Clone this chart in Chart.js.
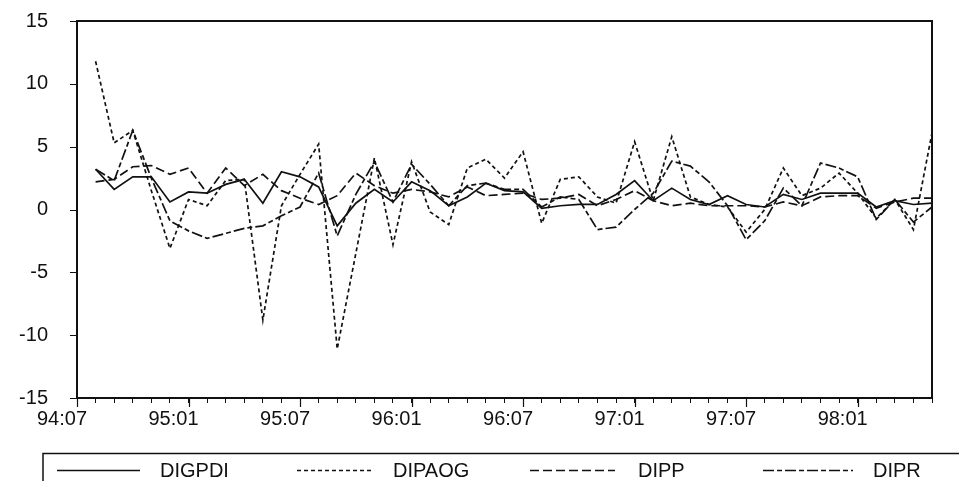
<!DOCTYPE html>
<html>
<head>
<meta charset="utf-8">
<script src="https://cdn.jsdelivr.net/npm/chart.js@4.4.1/dist/chart.umd.min.js"></script>
<style>
  html, body { margin: 0; padding: 0; background: #fff; }
  #wrap { width: 959px; height: 481px; }
</style>
</head>
<body>
<div id="wrap"><canvas id="chart" width="959" height="481"></canvas></div>
<script>
// months on the axis (94:07 has no observation)
const months = [
  "94:07","94:08","94:09","94:10","94:11","94:12",
  "95:01","95:02","95:03","95:04","95:05","95:06","95:07","95:08","95:09","95:10","95:11","95:12",
  "96:01","96:02","96:03","96:04","96:05","96:06","96:07","96:08","96:09","96:10","96:11","96:12",
  "97:01","97:02","97:03","97:04","97:05","97:06","97:07","97:08","97:09","97:10","97:11","97:12",
  "98:01","98:02","98:03","98:04","98:05"
];
const tickLabels = ["94:07","95:01","95:07","96:01","96:07","97:01","97:07","98:01"];

// series, 94:08 .. 98:05
const digpdi = [3.2,1.6,2.6,2.6,0.6, 1.4,1.3,2.0,2.4,0.5, 3.0,2.6,1.8,-1.3,0.5, 1.6,0.6,2.2,1.5,0.3,
  1.0,2.1,1.5,1.4,0.1, 0.3,0.4,0.4,1.2,2.3, 0.7,1.7,0.8,0.4,1.1, 0.4,0.2,1.2,0.8,1.3, 1.3,1.3,0.2,0.7,0.4, 0.5];
const dipaog = [11.8,5.3,6.3,1.5,-3.1, 0.8,0.3,2.3,2.4,-8.8, 0.3,2.8,5.2,-11.1,-3.5, 4.1,-2.8,3.8,-0.2,-1.2,
  3.3,4.0,2.5,4.6,-1.1, 2.4,2.6,1.0,0.5,5.4, 0.7,5.8,1.0,0.4,0.2, -1.8,0.0,3.3,1.1,1.7, 2.9,1.3,-0.7,0.8,-1.6, 6.1];
const dipp = [2.2,2.4,3.4,3.5,2.8, 3.3,1.3,3.3,1.9,2.8, 1.5,0.9,0.4,1.1,2.9, 1.9,1.3,1.6,1.4,1.0,
  1.8,1.1,1.2,1.3,0.8, 0.9,1.2,0.3,0.8,1.5, 0.7,0.3,0.5,0.3,0.3, 0.3,0.2,0.6,0.3,1.0, 1.1,1.1,0.1,0.6,0.9, 0.9];
const dipr = [3.2,2.3,6.3,2.5,-0.9, -1.7,-2.3,-1.9,-1.5,-1.3, -0.5,0.2,2.9,-2.1,1.2, 3.8,0.6,3.6,2.0,0.3,
  1.9,2.1,1.6,1.6,0.2, 1.0,0.8,-1.6,-1.4,0.0, 1.3,3.85,3.45,2.2,0.3, -2.4,-0.9,1.7,0.3,3.7, 3.3,2.6,-0.8,0.8,-1.0, 0.2];

const ink = "#111";
const FONT = "'Liberation Sans', Arial, sans-serif";

function series(label, values, dash, width) {
  return {
    label: label,
    data: [null].concat(values),
    borderColor: ink,
    borderWidth: width,
    borderDash: dash,
    pointRadius: 0,
    tension: 0,
    fill: false,
    spanGaps: false
  };
}

// frame, y ticks, long ticks every 6 months, and the boxed legend underneath
const framePlugin = {
  id: "frame",
  afterDraw(chart) {
    const ctx = chart.ctx;
    const a = chart.chartArea;
    const xs = chart.scales.x;
    const ys = chart.scales.y;
    ctx.save();
    ctx.strokeStyle = ink;
    ctx.lineWidth = 2;
    ctx.strokeRect(a.left, a.top, a.right - a.left, a.bottom - a.top);

    ctx.lineWidth = 1;
    ys.ticks.forEach(t => {
      const y = Math.round(ys.getPixelForValue(t.value)) + 0.5;
      ctx.beginPath();
      ctx.moveTo(a.left - 7, y);
      ctx.lineTo(a.left, y);
      ctx.stroke();
    });

    ctx.lineWidth = 1.2;
    months.forEach((m, i) => {
      if (tickLabels.includes(m)) {
        const x = Math.round(xs.getPixelForValue(i)) + 0.5;
        ctx.beginPath();
        ctx.moveTo(x, a.bottom);
        ctx.lineTo(x, a.bottom + 9);
        ctx.stroke();
      }
    });

    // legend box
    ctx.lineWidth = 1.5;
    ctx.beginPath();
    ctx.moveTo(43, 481);
    ctx.lineTo(43, 453.5);
    ctx.lineTo(959, 453.5);
    ctx.stroke();

    const slots = [
      { x0: 57, x1: 140, tx: 160 },
      { x0: 297, x1: 373, tx: 393 },
      { x0: 530, x1: 615, tx: 638 },
      { x0: 763, x1: 853, tx: 873 }
    ];
    ctx.font = "20px " + FONT;
    ctx.textBaseline = "middle";
    ctx.fillStyle = ink;
    chart.data.datasets.forEach((ds, k) => {
      const s = slots[k];
      ctx.lineWidth = 1.4;
      ctx.setLineDash(ds.borderDash || []);
      ctx.beginPath();
      ctx.moveTo(s.x0, 470.5);
      ctx.lineTo(s.x1, 470.5);
      ctx.stroke();
      ctx.setLineDash([]);
      ctx.fillText(ds.label, s.tx, 471);
    });
    ctx.restore();
  }
};

new Chart(document.getElementById("chart"), {
  type: "line",
  data: {
    labels: months,
    datasets: [
      series("DIGPDI", digpdi, [], 1.7),
      series("DIPAOG", dipaog, [4, 3], 1.7),
      series("DIPP", dipp, [9, 4], 1.7),
      series("DIPR", dipr, [11, 3, 5, 3], 1.7)
    ]
  },
  options: {
    responsive: false,
    animation: false,
    layout: { padding: { top: 21, right: 27, bottom: 43, left: 0 } },
    plugins: {
      legend: { display: false },
      tooltip: { enabled: false }
    },
    scales: {
      x: {
        type: "category",
        offset: false,
        afterFit: (scale) => { scale.height = 40; },
        border: { display: false },
        grid: {
          display: true,
          drawOnChartArea: false,
          offset: false,
          tickLength: 5,
          color: ink,
          lineWidth: 1
        },
        ticks: {
          autoSkip: false,
          maxRotation: 0,
          minRotation: 0,
          padding: 4,
          labelOffset: -15,
          color: ink,
          font: { family: FONT, size: 20 },
          callback: function (val, i) {
            const m = months[i];
            return tickLabels.includes(m) ? m : "";
          }
        }
      },
      y: {
        min: -15,
        max: 15,
        afterFit: (scale) => { scale.width = 77; },
        border: { display: false },
        grid: {
          display: false,
          drawTicks: true,
          tickLength: 29
        },
        ticks: {
          stepSize: 5,
          padding: 0,
          color: ink,
          font: { family: FONT, size: 20 }
        }
      }
    }
  },
  plugins: [framePlugin]
});
</script>
</body>
</html>
